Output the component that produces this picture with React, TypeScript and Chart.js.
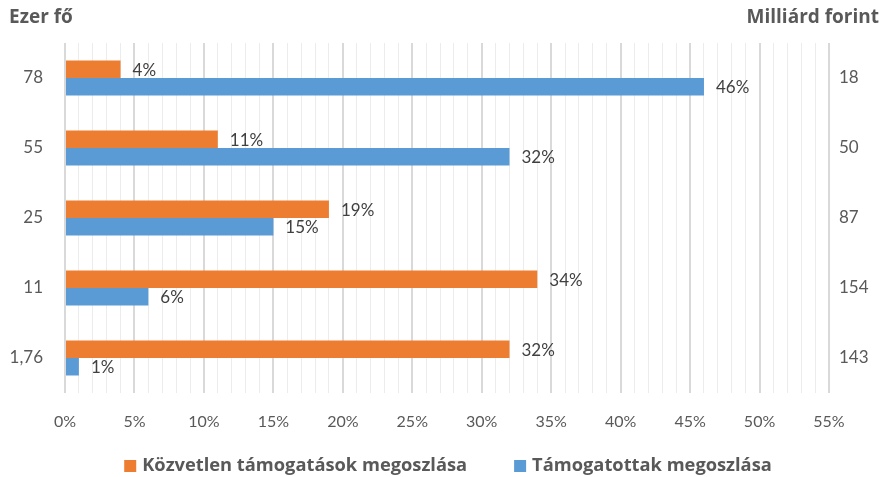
import React, { useEffect, useRef } from "react";
import { Chart, registerables } from "chart.js";

Chart.register(...registerables);

const categories = ["78", "55", "25", "11", "1,76"];
const rightLabels = ["18", "50", "87", "154", "143"];
const directSupportShare = [4, 11, 19, 34, 32];
const supportedShare = [46, 32, 15, 6, 1];
const seriesNames = ["Közvetlen támogatások megoszlása", "Támogatottak megoszlása"];
const seriesColors = ["#ED7D31", "#5B9BD5"];
const leftTitle = "Ezer fő";
const rightTitle = "Milliárd forint";
const xMin = 0;
const xMax = 55;

const FONT = "Lato, 'Open Sans', sans-serif";
const BOLD_FONT = "'Open Sans', Lato, sans-serif";

const extrasPlugin = {
  id: "extras",
  afterDatasetsDraw(chart: any) {
    const ctx = chart.ctx;
    ctx.save();
    ctx.font = `17px ${FONT}`;
    ctx.fillStyle = "#404040";
    ctx.textAlign = "left";
    ctx.textBaseline = "middle";
    chart.data.datasets.forEach((ds: any, di: number) => {
      const meta = chart.getDatasetMeta(di);
      meta.data.forEach((bar: any, i: number) => {
        ctx.fillText(`${ds.data[i]}%`, bar.x + 12, bar.y + 1);
      });
    });
    ctx.restore();
  },
  afterDraw(chart: any) {
    const ctx = chart.ctx;
    ctx.save();
    ctx.font = `bold 19px ${BOLD_FONT}`;
    ctx.fillStyle = "#595959";
    ctx.textBaseline = "middle";
    ctx.textAlign = "left";
    ctx.fillText(leftTitle, 9, 18);
    ctx.textAlign = "right";
    ctx.fillText(rightTitle, 879, 18);

    ctx.font = `bold 18.3px ${BOLD_FONT}`;
    const box = 12;
    const gap = 6;
    const spacing = 47;
    const ds = chart.data.datasets;
    const widths = ds.map((d: any) => ctx.measureText(d.label).width);
    const total = widths.reduce((a: number, w: number) => a + box + gap + w, 0) + spacing * (ds.length - 1);
    let x = 448 - total / 2;
    const y = 466;
    ctx.textAlign = "left";
    ds.forEach((d: any, i: number) => {
      ctx.fillStyle = d.backgroundColor;
      ctx.fillRect(x, y - box / 2, box, box);
      x += box + gap;
      ctx.fillStyle = "#595959";
      ctx.fillText(d.label, x, y);
      x += widths[i] + spacing;
    });
    ctx.restore();
  },
};

export default function App() {
  const ref = useRef<HTMLCanvasElement>(null);

  useEffect(() => {
    document.body.style.margin = "0";
    const canvas = ref.current!;
    const chart = new Chart(canvas, {
      type: "bar",
      data: {
        labels: categories,
        datasets: [
          {
            label: seriesNames[0],
            data: directSupportShare,
            backgroundColor: seriesColors[0],
            categoryPercentage: 0.5,
            barPercentage: 1.0,
          },
          {
            label: seriesNames[1],
            data: supportedShare,
            backgroundColor: seriesColors[1],
            categoryPercentage: 0.5,
            barPercentage: 1.0,
          },
        ],
      },
      options: {
        indexAxis: "y",
        responsive: false,
        animation: false,
        devicePixelRatio: 1,
        layout: { padding: { top: 43, left: 0, right: 0, bottom: 0 } },
        plugins: {
          legend: { display: false },
          tooltip: { enabled: false },
        },
        scales: {
          x: {
            type: "linear",
            min: xMin,
            max: xMax,
            border: { display: false },
            grid: {
              drawTicks: false,
              color: (c: any) => (c.tick && c.tick.value % 5 === 0 ? "#d9d9d9" : "#ececec"),
              lineWidth: (c: any) => (c.tick && c.tick.value % 5 === 0 ? 2 : 1),
            },
            ticks: {
              stepSize: 1,
              autoSkip: false,
              maxRotation: 0,
              padding: 19,
              color: "#595959",
              font: { family: FONT, size: 16 },
              callback: (v: any) => (Number(v) % 5 === 0 ? `${v}%` : ""),
            },
            afterFit: (s: any) => {
              s.height = 84;
            },
          },
          y: {
            type: "category",
            position: "left",
            border: { display: false },
            grid: { display: false },
            ticks: {
              color: "#595959",
              padding: 14,
              font: { family: FONT, size: 17 },
            },
            afterFit: (s: any) => {
              s.width = 65;
            },
          },
          y2: {
            type: "category",
            position: "right",
            labels: rightLabels,
            offset: true,
            border: { display: false },
            grid: { display: false },
            ticks: {
              color: "#595959",
              padding: 2,
              font: { family: FONT, size: 17 },
            },
            afterFit: (s: any) => {
              s.width = 54;
            },
          },
        },
      },
      plugins: [extrasPlugin],
    });
    return () => chart.destroy();
  }, []);

  return <canvas ref={ref} width={883} height={477} style={{ display: "block" }} />;
}
